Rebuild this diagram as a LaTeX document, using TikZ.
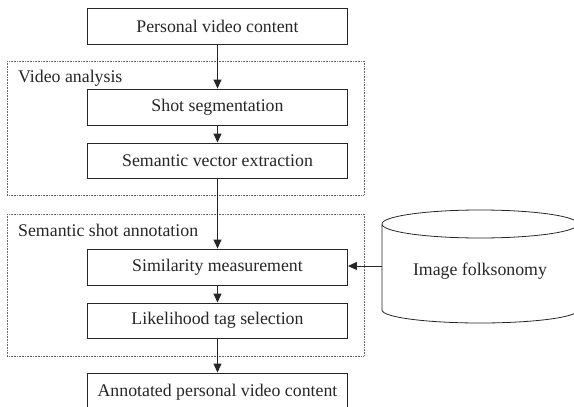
\documentclass[tikz,border=0pt]{standalone}
\usepackage{fontspec}
\setmainfont{Liberation Serif}
\usetikzlibrary{arrows.meta}
\begin{document}
\begin{tikzpicture}[x=1pt,y=-1pt,
  font=\fontsize{17.8}{20}\selectfont,
  stagebox/.style={draw=black!85, line width=0.9pt, rectangle, minimum width=260pt, inner sep=0pt, text=black!85},
  groupbox/.style={draw=black!60, line width=0.7pt, dash pattern=on 0.8pt off 0.8pt},
  grouplabel/.style={anchor=base west, inner sep=0pt, text=black!85},
  flow/.style={draw=black!85, line width=0.9pt, -{Triangle[length=9pt,width=8pt]}}]
\useasboundingbox (0,0) rectangle (574,407);

% stage boxes
\node[stagebox, minimum height=36pt] (input) at (217.5,26) {Personal video content};
\node[stagebox, minimum height=36pt] (shot) at (217.5,107) {Shot segmentation};
\node[stagebox, minimum height=35pt] (vector) at (217.5,160.5) {Semantic vector extraction};
\node[stagebox, minimum height=36pt] (sim) at (217.5,267) {Similarity measurement};
\node[stagebox, minimum height=35pt] (tag) at (217.5,320.5) {Likelihood tag selection};
\node[stagebox, minimum height=38pt] (output) at (217.5,392) {Annotated personal video content};

% dotted group frames
\draw[groupbox] (7,61) rectangle (364,195);
\node[grouplabel] (galabel) at (18,82) {Video analysis};
\draw[groupbox] (7,214) rectangle (364,356);
\node[grouplabel] (gblabel) at (18,236) {Semantic shot annotation};

% folksonomy database (cylinder)
\draw[draw=black!85, line width=0.8pt]
  (480,224) ellipse [x radius=98pt, y radius=14pt]
  (382,224) -- (382,310)
  arc [start angle=180, end angle=360, x radius=98pt, y radius=13pt]
  -- (578,224);
\node[text=black!85] (folk) at (480,271) {Image folksonomy};
\coordinate (folkin) at (382,266);

% connectors
\draw[flow] (input) -- (shot);
\draw[flow] (shot) -- (vector);
\draw[flow] (vector) -- (sim);
\draw[flow] (sim) -- (tag);
\draw[flow] (tag) -- (output);
\draw[flow] (folkin) -- (sim.east |- folkin);
\end{tikzpicture}
\end{document}
